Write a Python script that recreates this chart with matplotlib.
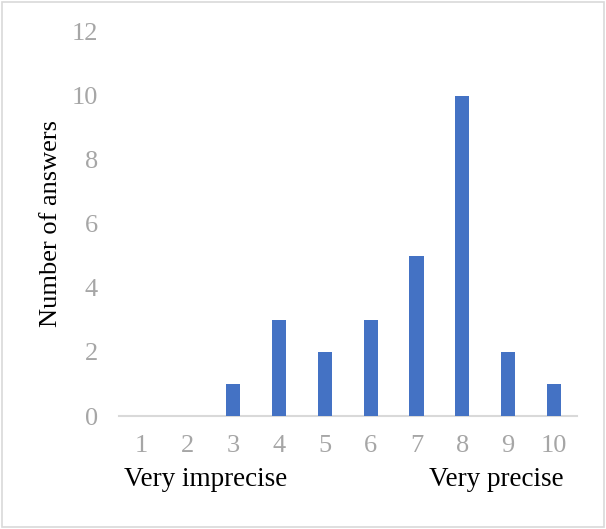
""" Bar chart of answers on precision scale """

from matplotlib import pyplot as plt
import numpy as np

categories = ["1", "2", "3", "4", "5", "6", "7", "8", "9", "10"]
answers = [0, 0, 1, 3, 2, 3, 5, 10, 2, 1]
y_ticks = [0, 2, 4, 6, 8, 10, 12]

plt.rcParams["font.family"] = ["Liberation Serif", "DejaVu Serif"]

fig = plt.figure(figsize=(6.06, 5.29), dpi=100)
ax = fig.add_axes([0.196, 0.2136, 0.756, 0.727])

x = np.arange(len(categories))
ax.bar(x, answers, width=0.31, color="#4472C4", zorder=3)

ax.set_xlim(-0.5, len(categories) - 0.5)
ax.set_ylim(0, 12)
ax.set_xticks(x)
ax.set_xticklabels(categories)
ax.set_yticks(y_ticks)
ax.tick_params(axis="both", length=0, labelsize=19, colors="#A6A6A6")
ax.tick_params(axis="y", pad=15)
ax.tick_params(axis="x", pad=14)

for side in ["top", "right", "left"]:
    ax.spines[side].set_visible(False)
ax.spines["bottom"].set_color("#D9D9D9")
ax.spines["bottom"].set_linewidth(1.5)

ax.set_ylabel("Number of answers", fontsize=19, color="black", labelpad=7)

fig.text(124 / 606, 1 - 479 / 529, "Very imprecise", fontsize=19.5,
         ha="left", va="center")
fig.text(564 / 606, 1 - 479 / 529, "Very precise", fontsize=19.5,
         ha="right", va="center")

# light frame around the whole chart
fig.patches.append(plt.Rectangle((0.004, 0.004), 0.992, 0.992,
                                 transform=fig.transFigure, fill=False,
                                 edgecolor="#D9D9D9", linewidth=1.2))

fig.savefig("out.png", dpi=100)
